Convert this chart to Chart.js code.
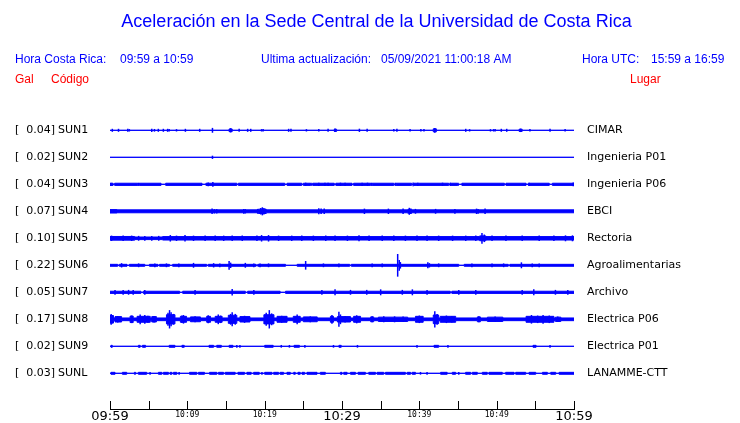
<!DOCTYPE html>
<html><head><meta charset="utf-8">
<script src="https://cdn.jsdelivr.net/npm/chart.js@4.4.0/dist/chart.umd.min.js"></script>
<style>html,body{margin:0;padding:0;background:#fff}canvas{display:block}</style>
</head><body>
<canvas id="c" width="740" height="423"></canvas>
<script>
const titleText = 'Aceleración en la Sede Central de la Universidad de Costa Rica';
const codes = ['SUN1','SUN2','SUN3','SUN4','SUN5','SUN6','SUN7','SUN8','SUN9','SUNL'];
const places = ['CIMAR','Ingenieria P01','Ingenieria P06','EBCI','Rectoria','Agroalimentarias','Archivo','Electrica P06','Electrica P01','LANAMME-CTT'];
const peakGal = [0.04,0.02,0.04,0.07,0.10,0.22,0.05,0.17,0.02,0.03];
const tickLabels = ['09:59','10:09','10:19','10:29','10:39','10:49','10:59'];
// background noise half-amplitude (Gal) per station
const baseNoise = [0,0,0.02,0.027,0.032,0.018,0.02,0.025,0,0];
// [startMin, endMin, halfAmp] ranges that differ from the background noise
const burstsSUN1 = [[15.4,15.8,0.025],[29.0,29.3,0.02],[41.8,42.2,0.028],[52.9,53.3,0.02]];
const burstsSUN2 = [];
const burstsSUN3 = [[0,0.1,0],[0.4,0.6,0],[3.6,3.8,0],[6.6,7.2,0],[11.9,12.4,0],[16.4,16.6,0],[22.6,22.9,0],[24.8,25.0,0],[25.9,26.2,0],[29.0,29.2,0],[31.3,31.5,0],[33.7,33.9,0],[36.7,37.0,0],[39.0,39.3,0],[43.8,44.0,0],[44.9,45.5,0],[51.0,51.2,0],[53.8,54.1,0],[56.8,57.2,0]];
const burstsSUN4 = [[0,0.9,0.032],[19.2,20.2,0.04],[38.5,39.0,0.035]];
const burstsSUN5 = [[0,3.2,0.034],[3.2,6.8,0.024],[47.8,48.6,0.045]];
const burstsSUN6 = [[1.0,1.2,0],[2.2,2.5,0],[4.5,5.1,0],[6.2,6.4,0],[7.7,8.1,0],[12.5,12.7,0],[18.9,19.1,0],[22.7,24.2,0],[31.0,31.2,0],[45.1,45.8,0],[51.5,51.7,0]];
const burstsSUN7 = [[4.0,4.3,0],[9.0,9.4,0],[17.5,17.8,0],[22.0,22.7,0],[44.0,44.2,0]];
const burstsSUN8 = [[0,0.45,0.07],[0.65,1.5,0.05],[2.6,3.0,0.06],[3.5,5.2,0.055],[5.4,6.0,0.05],[7.3,8.4,0.085],[9.1,9.9,0.055],[10.4,11.7,0.045],[12.5,13.0,0.055],[13.6,14.5,0.055],[15.3,16.4,0.075],[16.8,18.1,0.05],[19.9,21.2,0.085],[21.6,22.9,0.055],[23.7,24.6,0.055],[25.0,26.8,0.045],[28.5,28.9,0.055],[29.4,31.1,0.05],[31.5,32.4,0.055],[33.7,34.1,0.045],[34.7,38.5,0.04],[39.5,40.5,0.055],[41.8,42.5,0.08],[42.7,44.7,0.055],[47.5,47.9,0.045],[48.8,50.8,0.04],[53.8,57.4,0.055],[57.6,58.3,0.04]];
const burstsSUN9 = [[0.13,0.3,0.018],[3.67,3.9,0.018],[4.2,4.6,0.018],[7.65,8.4,0.018],[9.3,9.6,0.018],[12.8,13.4,0.018],[13.8,14.4,0.018],[15.4,15.9,0.018],[20.0,21.1,0.018],[23.8,24.5,0.018],[29.6,29.9,0.018],[41.9,42.5,0.018],[54.7,55.1,0.018]];
const burstsSUNL = [[0.13,0.65,0.018],[1.6,2.16,0.018],[3.15,3.3,0.018],[3.67,4.75,0.018],[6.26,6.7,0.018],[6.9,7.56,0.018],[7.77,8.0,0.018],[8.2,8.64,0.018],[10.28,11.23,0.018],[11.44,12.22,0.018],[12.87,13.82,0.018],[14.03,14.68,0.018],[14.9,16.19,0.018],[16.54,17.4,0.018],[17.7,18.26,0.018],[18.57,19.3,0.018],[20.0,20.94,0.018],[21.16,21.8,0.018],[22.0,22.45,0.018],[22.88,23.32,0.018],[23.75,23.96,0.018],[24.3,24.6,0.018],[24.83,25.17,0.018],[25.47,26.77,0.018],[27.2,27.85,0.018],[29.79,30.0,0.018],[30.22,30.66,0.018],[31.1,31.74,0.018],[32.08,33.03,0.018],[33.46,34.33,0.018],[34.54,35.4,0.018],[35.62,38.2,0.018],[38.43,38.86,0.018],[39.07,39.5,0.018],[42.75,43.6,0.018],[44.26,44.69,0.018],[45.98,46.63,0.018],[46.85,47.5,0.018],[48.14,48.79,0.018],[49.0,50.73,0.018],[51.16,52.25,0.018],[52.46,53.76,0.018],[54.19,55.05,0.018],[55.92,56.56,0.018],[56.99,57.64,0.018],[58.07,60,0.018]];
// [minute, halfAmp] individual spikes
const spikesSUN1 = [[0.3,0.028],[1.1,0.028],[2.3,0.028],[2.5,0.022],[5.4,0.03],[5.75,0.025],[6.25,0.028],[6.9,0.028],[7.45,0.028],[7.65,0.022],[8.6,0.022],[9.75,0.028],[11.6,0.028],[13.25,0.045],[15.6,0.04],[16.7,0.028],[17.8,0.028],[18.2,0.028],[19.6,0.022],[19.8,0.022],[23.1,0.028],[23.4,0.028],[25.4,0.022],[27.0,0.022],[28.2,0.028],[29.1,0.032],[32.25,0.03],[33.25,0.028],[36.7,0.022],[37.1,0.028],[38.8,0.022],[40.2,0.022],[40.6,0.022],[42.0,0.045],[46.0,0.028],[46.5,0.022],[49.2,0.022],[49.6,0.022],[49.8,0.022],[50.6,0.028],[51.3,0.028],[53.1,0.032],[54.3,0.022],[56.9,0.028],[58.85,0.022]];
const spikesSUN2 = [[13.25,0.03]];
const spikesSUN3 = [[0.1,0.03],[3.7,0.03],[12.7,0.035],[13.3,0.045],[25.3,0.03],[26.0,0.03],[27.0,0.03],[27.8,0.03],[28.2,0.03],[29.8,0.03],[30.4,0.03],[32.6,0.03],[33.3,0.03],[33.8,0.03],[36.9,0.03],[39.2,0.035],[39.8,0.03],[43.0,0.03],[44.0,0.03],[45.0,0.03],[54.2,0.03],[59.9,0.035]];
const spikesSUN4 = [[13.2,0.05],[13.5,0.04],[13.8,0.04],[17.3,0.045],[17.5,0.04],[19.1,0.045],[19.5,0.06],[19.7,0.075],[19.9,0.06],[20.1,0.045],[27.0,0.055],[27.3,0.05],[27.7,0.05],[32.9,0.05],[36.0,0.05],[37.9,0.05],[38.7,0.065],[38.9,0.05],[39.5,0.045],[42.1,0.045],[44.6,0.045],[47.4,0.05],[47.6,0.045],[48.5,0.05]];
const spikesSUN5 = [[0.2,0.05],[1.7,0.05],[2.8,0.05],[3.7,0.045],[4.5,0.045],[5.4,0.045],[6.3,0.045],[7.8,0.06],[8.6,0.05],[9.7,0.06],[10.8,0.05],[12.3,0.05],[13.6,0.05],[14.7,0.05],[15.8,0.05],[17.1,0.05],[19.0,0.05],[19.6,0.06],[20.5,0.06],[21.8,0.05],[23.5,0.05],[24.8,0.05],[26.3,0.05],[27.9,0.05],[29.1,0.05],[30.7,0.05],[32.2,0.055],[33.5,0.05],[35.2,0.05],[36.7,0.05],[38.2,0.05],[39.7,0.05],[41.0,0.05],[42.5,0.05],[44.3,0.05],[46.0,0.05],[47.3,0.05],[48.1,0.1],[48.4,0.07],[49.4,0.05],[51.2,0.05],[53.3,0.05],[55.5,0.05],[57.4,0.05],[58.9,0.055],[59.8,0.055]];
const spikesSUN6 = [[1.5,0.04],[3.7,0.035],[5.8,0.035],[7.3,0.035],[8.9,0.035],[10.8,0.045],[13.4,0.04],[14.2,0.035],[15.4,0.08],[15.6,0.05],[17.5,0.045],[18.6,0.035],[19.4,0.035],[20.5,0.035],[25.3,0.08],[27.6,0.035],[29.6,0.035],[33.9,0.035],[35.2,0.035],[37.2,0.21],[37.4,0.1],[37.55,0.06],[41.1,0.055],[41.3,0.04],[42.5,0.035],[46.8,0.035],[49.4,0.035],[50.9,0.035],[53.2,0.055],[54.6,0.035],[55.5,0.035]];
const spikesSUN7 = [[0.65,0.045],[1.7,0.045],[2.4,0.045],[3.0,0.045],[4.5,0.045],[11.0,0.045],[15.8,0.06],[18.6,0.045],[27.4,0.045],[29.1,0.055],[31.1,0.045],[33.2,0.045],[35.0,0.055],[37.8,0.045],[39.1,0.055],[41.0,0.045],[45.1,0.045],[47.3,0.045],[53.3,0.045],[54.8,0.055],[57.6,0.045],[59.2,0.045]];
const spikesSUN8 = [[0.15,0.1],[0.3,0.075],[1.0,0.06],[2.8,0.07],[3.9,0.09],[4.5,0.08],[4.9,0.065],[5.7,0.06],[7.5,0.12],[7.7,0.17],[7.9,0.13],[8.2,0.1],[9.3,0.07],[9.5,0.08],[11.0,0.055],[12.7,0.075],[14.0,0.09],[14.3,0.07],[15.6,0.1],[15.8,0.13],[16.2,0.1],[17.4,0.065],[20.2,0.12],[20.6,0.17],[20.9,0.11],[22.2,0.065],[24.2,0.09],[25.9,0.055],[28.7,0.08],[29.6,0.14],[29.8,0.09],[30.4,0.06],[31.9,0.075],[33.9,0.055],[35.4,0.055],[36.8,0.055],[37.9,0.05],[40.0,0.07],[42.0,0.15],[42.3,0.1],[43.5,0.07],[44.2,0.06],[47.7,0.055],[49.8,0.05],[54.5,0.08],[55.3,0.07],[56.0,0.08],[56.8,0.07],[57.9,0.05]];
const spikesSUN9 = [[16.4,0.025],[16.8,0.025],[22.15,0.025],[23.2,0.025],[25.2,0.025],[28.9,0.025],[32.0,0.025],[39.7,0.025],[43.7,0.025],[56.9,0.025]];
const spikesSUNL = [[5.18,0.025],[8.94,0.025],[19.65,0.025],[40.15,0.025],[41.0,0.025],[45.1,0.025]];

const bursts = [burstsSUN1,burstsSUN2,burstsSUN3,burstsSUN4,burstsSUN5,burstsSUN6,burstsSUN7,burstsSUN8,burstsSUN9,burstsSUNL];
const spikes = [spikesSUN1,spikesSUN2,spikesSUN3,spikesSUN4,spikesSUN5,spikesSUN6,spikesSUN7,spikesSUN8,spikesSUN9,spikesSUNL];

const BLUE = '#0000ff';
const TRACE_GAP = 0.5; // Gal between traces
const levelOf = i => -TRACE_GAP * i;

const datasets = [];
codes.forEach((c, i) => {
  const lvl = levelOf(i);
  const b = baseNoise[i];
  const pts = [[0, b]];
  bursts[i].forEach(([s, e, a]) => { pts.push([s, a]); pts.push([e, b]); });
  pts.push([60, b]);
  datasets.push({type:'line', label:c+'+', data: pts.map(([x,a]) => ({x, y: lvl + a})),
    borderColor: BLUE, borderWidth: 1, stepped: 'before', pointRadius: 0, fill: false});
  datasets.push({type:'line', label:c+'-', data: pts.map(([x,a]) => ({x, y: lvl - a})),
    borderColor: BLUE, backgroundColor: BLUE, borderWidth: 1, stepped: 'before', pointRadius: 0, fill: '-1'});
  datasets.push({type:'bar', label:c, data: spikes[i].map(([x,a]) => ({x, y: [lvl - a, lvl + a]})),
    backgroundColor: BLUE, borderWidth: 0, barThickness: 1.5, inflateAmount: 0, grouped: false});
});

const decor = {
  id: 'decor',
  afterDraw(chart) {
    const ctx = chart.ctx, xs = chart.scales.x, ys = chart.scales.y;
    const bottom = chart.chartArea.bottom;
    ctx.save();
    ctx.strokeStyle = '#000'; ctx.lineWidth = 1;
    xs.ticks.forEach(t => {
      const px = Math.round(xs.getPixelForValue(t.value)) + 0.5;
      ctx.beginPath(); ctx.moveTo(px, bottom - 8); ctx.lineTo(px, bottom); ctx.stroke();
    });
    ctx.textBaseline = 'middle';
    ctx.fillStyle = BLUE;
    ctx.font = '18px "Liberation Sans"';
    ctx.textAlign = 'center';
    ctx.fillText(titleText, 376.5, 22);
    ctx.textAlign = 'left';
    ctx.font = '12px "Liberation Sans"';
    ctx.fillText('Hora Costa Rica:', 15, 60);
    ctx.fillText('09:59 a 10:59', 120, 60);
    ctx.fillText('Ultima actualización:', 261, 60);
    ctx.fillText('05/09/2021 11:00:18 AM', 381, 60);
    ctx.fillText('Hora UTC:', 582, 60);
    ctx.fillText('15:59 a 16:59', 651, 60);
    ctx.fillStyle = '#ff0000';
    ctx.fillText('Gal', 15, 80);
    ctx.fillText('Código', 51, 80);
    ctx.fillText('Lugar', 630, 80);
    ctx.fillStyle = '#000';
    ctx.font = '11px "DejaVu Sans"';
    codes.forEach((c, i) => {
      const py = ys.getPixelForValue(levelOf(i));
      ctx.textAlign = 'left';
      ctx.fillText('[', 15, py);
      ctx.textAlign = 'right';
      ctx.fillText(peakGal[i].toFixed(2) + ']', 55, py);
      ctx.textAlign = 'left';
      ctx.fillText(c, 58, py);
      ctx.fillText(places[i], 587, py);
    });
    ctx.restore();
  }
};

new Chart(document.getElementById('c'), {
  type: 'line',
  data: { datasets },
  options: {
    responsive: false, animation: false, devicePixelRatio: 1,
    layout: { padding: { left: 110, right: 166, top: 118, bottom: 0 } },
    plugins: { legend: { display: false }, tooltip: { enabled: false }, title: { display: false } },
    elements: { point: { radius: 0 }, line: { tension: 0 } },
    scales: {
      x: { type: 'linear', min: 0, max: 60, offset: false,
        afterFit: s => { s.height = 14; },
        border: { display: true, color: '#000', width: 1 },
        grid: { display: false, drawTicks: false },
        ticks: { stepSize: 5, autoSkip: false, maxRotation: 0, padding: 0, color: '#000',
          callback: v => (v % 10 === 0 ? tickLabels[v / 10] : ''),
          font: c => (c.tick && c.tick.value % 30 === 0)
            ? { family: 'DejaVu Sans', size: 13, lineHeight: 1.1 }
            : { family: 'DejaVu Sans Mono', size: 8, lineHeight: 1.5 } } },
      y: { type: 'linear', display: false, min: -5.161, max: 0.228 }
    }
  },
  plugins: [decor]
});
</script>
</body></html>
